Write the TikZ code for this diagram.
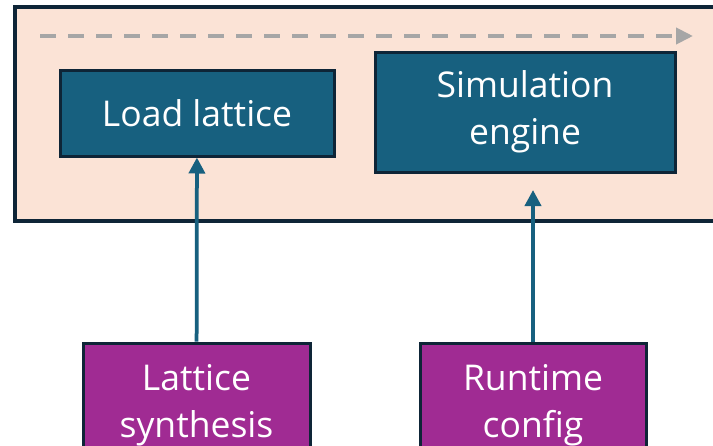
\documentclass[tikz,border=0pt]{standalone}
\usepackage{fontspec}
\setmainfont{Open Sans}
\usetikzlibrary{arrows.meta}

\definecolor{peach}{HTML}{FBE3D6}
\definecolor{navy}{HTML}{0E2537}
\definecolor{stepblue}{HTML}{17607F}
\definecolor{inputpurple}{HTML}{A02B93}
\definecolor{flowgray}{HTML}{A6A6A6}

\tikzset{
  stage/.style={draw=navy,line width=0.06cm,fill=stepblue,text=white,
    font=\fontsize{20.2}{27}\selectfont},
  source/.style={draw=navy,line width=0.06cm,fill=inputpurple,text=white,
    font=\fontsize{20.2}{27}\selectfont},
  feed/.style={stepblue,line width=0.075cm,-{Triangle[length=0.32cm,width=0.32cm]}}
}

\begin{document}
\begin{tikzpicture}[thick,every text node part/.style={align=center}]
    \useasboundingbox (0,0) rectangle (14.26,-8.92);

    % --------------------------------------------------------- %
    % ------------- pipeline container
    % --------------------------------------------------------- %
    \draw[navy,fill=peach,line width=0.08cm] (0.30,-0.14) rectangle (14.60,-4.42);

    \coordinate (flowstart) at (0.80,-0.72);
    \coordinate (flowend) at (13.86,-0.72);
    \draw[flowgray,line width=0.08cm,dash pattern=on 0.32cm off 0.24cm,
      -{Triangle[length=0.34cm,width=0.32cm]}] (flowstart) -- (flowend);

    % --------------------------------------------------------- %
    % ------------- stages
    % --------------------------------------------------------- %
    \node[stage,minimum width=5.48cm,minimum height=1.72cm] (load) at (3.94,-2.26) {Load lattice};
    \node[stage,minimum width=6.0cm,minimum height=2.4cm] (engine) at (10.50,-2.24) {Simulation\\engine};

    % --------------------------------------------------------- %
    % ------------ inputs
    % --------------------------------------------------------- %
    \node[source,minimum width=4.54cm,minimum height=2.5cm] (synth) at (3.93,-8.11) {Lattice\\synthesis};
    \draw[feed] (synth) -- (load);

    \node[source,minimum width=4.52cm,minimum height=2.5cm] (runtime) at (10.66,-8.11) {Runtime\\config};
    \coordinate (enginein) at (10.66,-3.80);
    \draw[feed] (runtime) -- (enginein);

  \end{tikzpicture}
\end{document}
